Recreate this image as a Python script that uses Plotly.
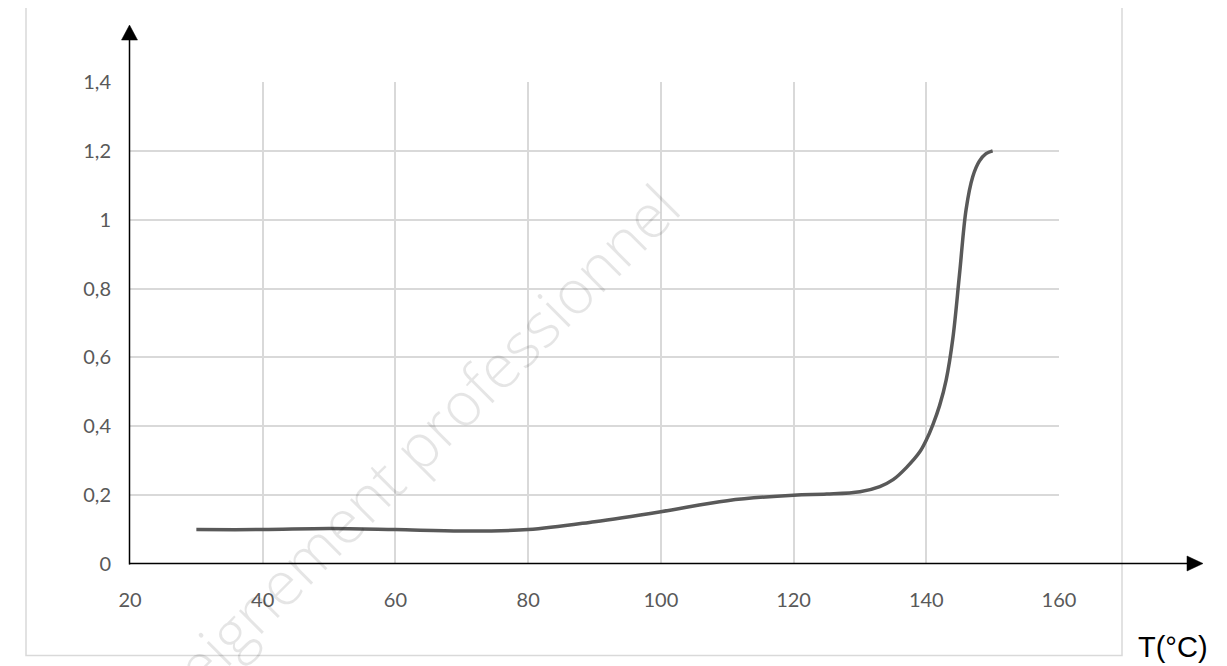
import plotly.graph_objects as go

# Data
temperature = [30, 40, 50, 60, 70, 80, 90, 100, 110, 120, 125, 130, 133, 135, 137, 139,
               140, 141, 142, 143, 144, 145, 146, 147, 148, 149, 150]
value = [0.1, 0.1, 0.103, 0.1, 0.096, 0.1, 0.123, 0.152, 0.184, 0.2, 0.203, 0.21, 0.225,
         0.245, 0.28, 0.325, 0.36, 0.405, 0.46, 0.535, 0.655, 0.84, 1.03, 1.125, 1.17, 1.192, 1.2]

x_ticks = [20, 40, 60, 80, 100, 120, 140, 160]
x_ticktext = ["20", "40", "60", "80", "100", "120", "140", "160"]
y_ticks = [0, 0.2, 0.4, 0.6, 0.8, 1.0, 1.2, 1.4]
y_ticktext = ["0", "0,2", "0,4", "0,6", "0,8", "1", "1,2", "1,4"]

OFF = 8  # page body margin
W, H = 1227 - OFF, 666 - OFF
# plot area in screen pixels of the reference
SL, SR, ST, SB = 130, 1059, 82, 564.5
PW, PH = SR - SL, SB - ST


def px(xs):
    return (xs - SL) / PW


def py(ys):
    return (SB - ys) / PH


fig = go.Figure()
fig.add_trace(go.Scatter(
    x=temperature, y=value, mode="lines",
    line=dict(color="#595959", width=3.5, shape="spline", smoothing=1.0),
    hoverinfo="skip", showlegend=False,
))

shapes = []
# outer border
shapes.append(dict(type="rect", xref="paper", yref="paper",
                   x0=px(26), x1=px(1122), y0=py(656), y1=py(6),
                   line=dict(color="#d9d9d9", width=1.5), layer="below"))
# y axis arrow
shapes.append(dict(type="line", xref="paper", yref="paper",
                   x0=px(129.5), x1=px(129.5), y0=py(565), y1=py(38),
                   line=dict(color="black", width=1.5)))
shapes.append(dict(type="path", xref="paper", yref="paper",
                   path=f"M {px(129.5)},{py(25)} L {px(121.5)},{py(40)} L {px(137.5)},{py(40)} Z",
                   fillcolor="black", line=dict(color="black", width=0.5)))
# x axis arrow
shapes.append(dict(type="line", xref="paper", yref="paper",
                   x0=px(129), x1=px(1190), y0=py(564), y1=py(564),
                   line=dict(color="black", width=1.5)))
shapes.append(dict(type="path", xref="paper", yref="paper",
                   path=f"M {px(1203)},{py(564)} L {px(1187)},{py(556.5)} L {px(1187)},{py(571.5)} Z",
                   fillcolor="black", line=dict(color="black", width=0.5)))

annotations = [
    dict(text="T(°C)", xref="paper", yref="paper", x=px(1136), y=py(648),
         xanchor="left", yanchor="middle", showarrow=False,
         font=dict(family="Liberation Sans, Arial", size=29, color="black")),
    dict(text="Enseignement professionnel", xref="paper", yref="paper",
         x=px(392), y=py(471), xanchor="center", yanchor="middle",
         textangle=-45, showarrow=False,
         font=dict(family="Open Sans", size=61, color="rgba(0,0,0,0.1)", weight=300)),
]

fig.update_layout(
    width=W, height=H,
    margin=dict(l=SL - OFF, r=W - (SR - OFF), t=ST - OFF, b=H - (SB - OFF), pad=0),
    paper_bgcolor="white", plot_bgcolor="white",
    shapes=shapes, annotations=annotations,
    showlegend=False,
    xaxis=dict(range=[20, 160], tickvals=x_ticks, ticktext=x_ticktext,
               showgrid=True, gridcolor="#d9d9d9", gridwidth=2,
               zeroline=False, showline=False, ticks="",
               ticklabelstandoff=22,
               tickfont=dict(family="Lato", size=20, color="#595959")),
    yaxis=dict(range=[0, 1.4], tickvals=y_ticks, ticktext=y_ticktext,
               showgrid=True, gridcolor="#d9d9d9", gridwidth=2,
               zeroline=False, showline=False, ticks="",
               ticklabelstandoff=18,
               tickfont=dict(family="Lato", size=20, color="#595959")),
)

fig.write_html("out.html")
